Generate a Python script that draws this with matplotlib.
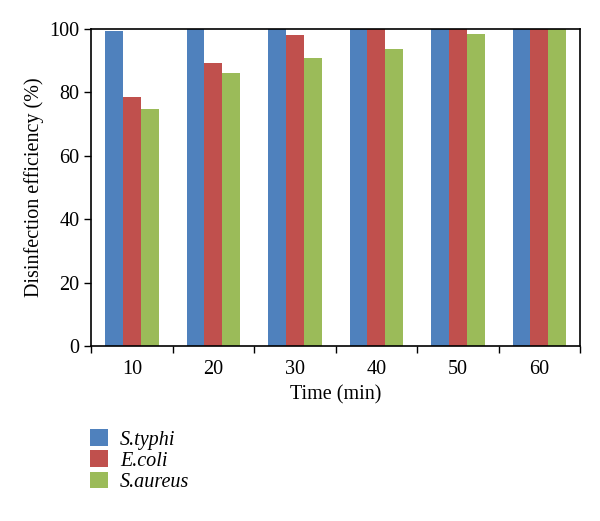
import numpy as np
import matplotlib.pyplot as plt

plt.rcParams['font.family'] = ['Liberation Serif', 'DejaVu Serif']

times = ['10', '20', '30', '40', '50', '60']
s_typhi = [99.2, 100, 100, 100, 100, 100]
e_coli = [78.4, 89.1, 98.0, 100, 100, 100]
s_aureus = [74.8, 86.1, 90.9, 93.5, 98.3, 100]

colors = ['#4f81bd', '#c0504d', '#9bbb59']

fig = plt.figure(figsize=(6, 5.21), dpi=100)
ax = fig.add_axes([0.152, 0.335, 0.815, 0.61])

x = np.arange(len(times))
w = 0.22
b1 = ax.bar(x - w, s_typhi, w, color=colors[0])
b2 = ax.bar(x, e_coli, w, color=colors[1])
b3 = ax.bar(x + w, s_aureus, w, color=colors[2])

ax.set_xlim(-0.5, len(times) - 0.5)
ax.set_ylim(0, 100)
ax.set_yticks(range(0, 101, 20))
ax.set_xticks(x)
ax.set_xticklabels(times)
ax.set_xticks(np.arange(-0.5, len(times)), minor=True)
ax.tick_params(axis='x', which='major', length=0, labelsize=14.5, pad=10)
ax.tick_params(axis='x', which='minor', length=5, width=1)
ax.tick_params(axis='y', length=5, width=1, labelsize=14.5)
for s in ax.spines.values():
    s.set_linewidth(1.2)

ax.set_xlabel('Time (min)', fontsize=14.5, labelpad=4)
ax.set_ylabel('Disinfection efficiency (%)', fontsize=14.5)

fig.legend([b1, b2, b3], ['S.typhi', 'E.coli', 'S.aureus'],
           loc='upper left', bbox_to_anchor=(0.15, 0.176), frameon=False,
           prop={'style': 'italic', 'size': 14.5}, handlelength=0.9,
           handleheight=0.9, labelspacing=0.04, handletextpad=0.6,
           borderpad=0, borderaxespad=0)

fig.savefig('out.png', dpi=100)
